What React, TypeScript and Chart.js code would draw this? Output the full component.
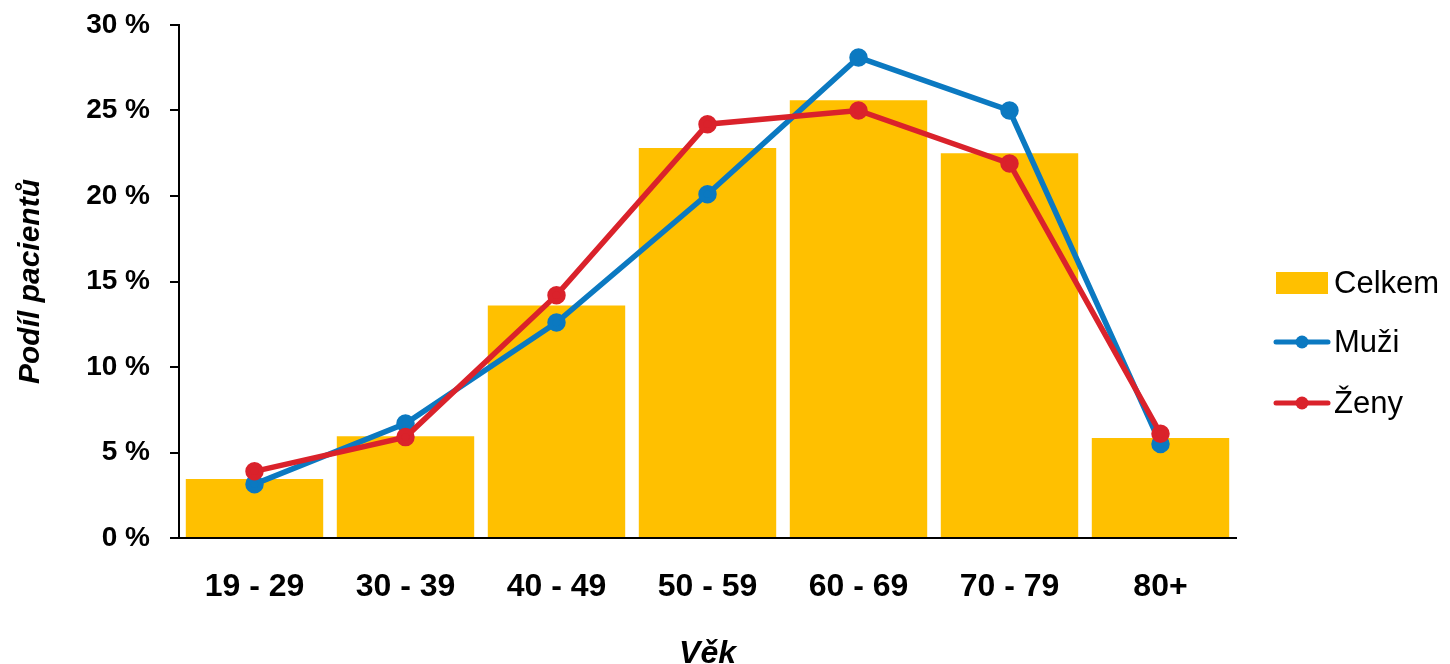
import React, { useEffect, useRef } from "react";
import { Chart, registerables } from "chart.js";

Chart.register(...registerables);

const categories = ["19 - 29", "30 - 39", "40 - 49", "50 - 59", "60 - 69", "70 - 79", "80+"];
const celkem = [3.45, 5.95, 13.6, 22.8, 25.6, 22.5, 5.85];
const muzi = [3.15, 6.7, 12.6, 20.1, 28.1, 25.0, 5.5];
const zeny = [3.9, 5.9, 14.2, 24.2, 25.0, 21.9, 6.1];
const yTicks = [0, 5, 10, 15, 20, 25, 30];

const YELLOW = "#FFC000";
const BLUE = "#0B79C1";
const RED = "#DA222B";
const FONT = "'Liberation Sans', Arial, sans-serif";

const legendPlugin = {
  id: "customLegend",
  afterDraw(chart: any) {
    const ctx = chart.ctx;
    const x0 = 1276;
    const x1 = 1328;
    const tx = 1334;
    const rows = [
      { label: "Celkem", y: 283, type: "box", color: YELLOW },
      { label: "Muži", y: 342, type: "line", color: BLUE },
      { label: "Ženy", y: 403, type: "line", color: RED },
    ];
    ctx.save();
    for (const r of rows) {
      if (r.type === "box") {
        ctx.fillStyle = r.color;
        ctx.fillRect(x0, r.y - 11, x1 - x0, 22);
      } else {
        ctx.strokeStyle = r.color;
        ctx.lineWidth = 5;
        ctx.lineCap = "round";
        ctx.beginPath();
        ctx.moveTo(x0, r.y);
        ctx.lineTo(x1, r.y);
        ctx.stroke();
        ctx.fillStyle = r.color;
        ctx.beginPath();
        ctx.arc((x0 + x1) / 2, r.y, 6.5, 0, Math.PI * 2);
        ctx.fill();
      }
      ctx.fillStyle = "#000";
      ctx.font = `31px ${FONT}`;
      ctx.textBaseline = "middle";
      ctx.textAlign = "left";
      ctx.fillText(r.label, tx, r.y + 1);
    }
    ctx.restore();
  },
};

export default function App() {
  const ref = useRef<HTMLCanvasElement | null>(null);
  useEffect(() => {
    if (!ref.current) return;
    const chart = new Chart(ref.current, {
      type: "bar",
      data: {
        labels: categories,
        datasets: [
          {
            type: "line",
            label: "Ženy",
            data: zeny,
            borderColor: RED,
            backgroundColor: RED,
            pointBackgroundColor: RED,
            pointBorderColor: RED,
            borderWidth: 5.5,
            pointRadius: 6.5,
            tension: 0,
            order: 1,
          },
          {
            type: "line",
            label: "Muži",
            data: muzi,
            borderColor: BLUE,
            backgroundColor: BLUE,
            pointBackgroundColor: BLUE,
            pointBorderColor: BLUE,
            borderWidth: 5.5,
            pointRadius: 6.5,
            tension: 0,
            order: 2,
          },
          {
            type: "bar",
            label: "Celkem",
            data: celkem,
            backgroundColor: YELLOW,
            categoryPercentage: 1,
            barPercentage: 0.91,
            order: 3,
          },
        ],
      },
      options: {
        responsive: false,
        animation: false,
        layout: { padding: { left: 0, right: 214, top: 25, bottom: 0 } },
        plugins: {
          legend: { display: false },
          tooltip: { enabled: false },
        },
        scales: {
          x: {
            afterFit: (s: any) => {
              s.height = 126;
              s.paddingLeft = 0;
              s.paddingRight = 0;
            },
            grid: { drawOnChartArea: false, drawTicks: false },
            border: { display: true, color: "#000", width: 2 },
            ticks: {
              padding: 30,
              color: "#000",
              font: { family: FONT, size: 32, weight: "bold" },
            },
            title: {
              display: true,
              text: "Věk",
              color: "#000",
              font: { family: FONT, size: 32, weight: "bold", style: "italic", lineHeight: 1 },
              padding: { top: 0, bottom: -6 },
            },
          },
          y: {
            min: 0,
            max: 30,
            afterFit: (s: any) => {
              s.width = 179;
              s.paddingTop = 0;
              s.paddingBottom = 0;
            },
            afterBuildTicks: (s: any) => {
              s.ticks = yTicks.map((v) => ({ value: v }));
            },
            grid: {
              drawOnChartArea: false,
              drawTicks: true,
              tickLength: 9,
              color: "#000",
              lineWidth: 2,
            },
            border: { display: true, color: "#000", width: 2 },
            ticks: {
              padding: 20,
              color: "#000",
              font: { family: FONT, size: 28, weight: "bold" },
              callback: (v: any) => `${v} %`,
            },
            title: {
              display: true,
              text: "Podíl pacientů",
              color: "#000",
              font: { family: FONT, size: 30, weight: "bold", style: "italic", lineHeight: 1.2 },
              padding: { top: 13, bottom: 0 },
            },
          },
        },
      },
      plugins: [legendPlugin],
    });
    return () => chart.destroy();
  }, []);
  return (
    <div style={{ position: "fixed", left: 0, top: 0, width: 1450, height: 664, background: "#fff" }}>
      <canvas ref={ref} width={1450} height={664} style={{ display: "block" }} />
    </div>
  );
}
